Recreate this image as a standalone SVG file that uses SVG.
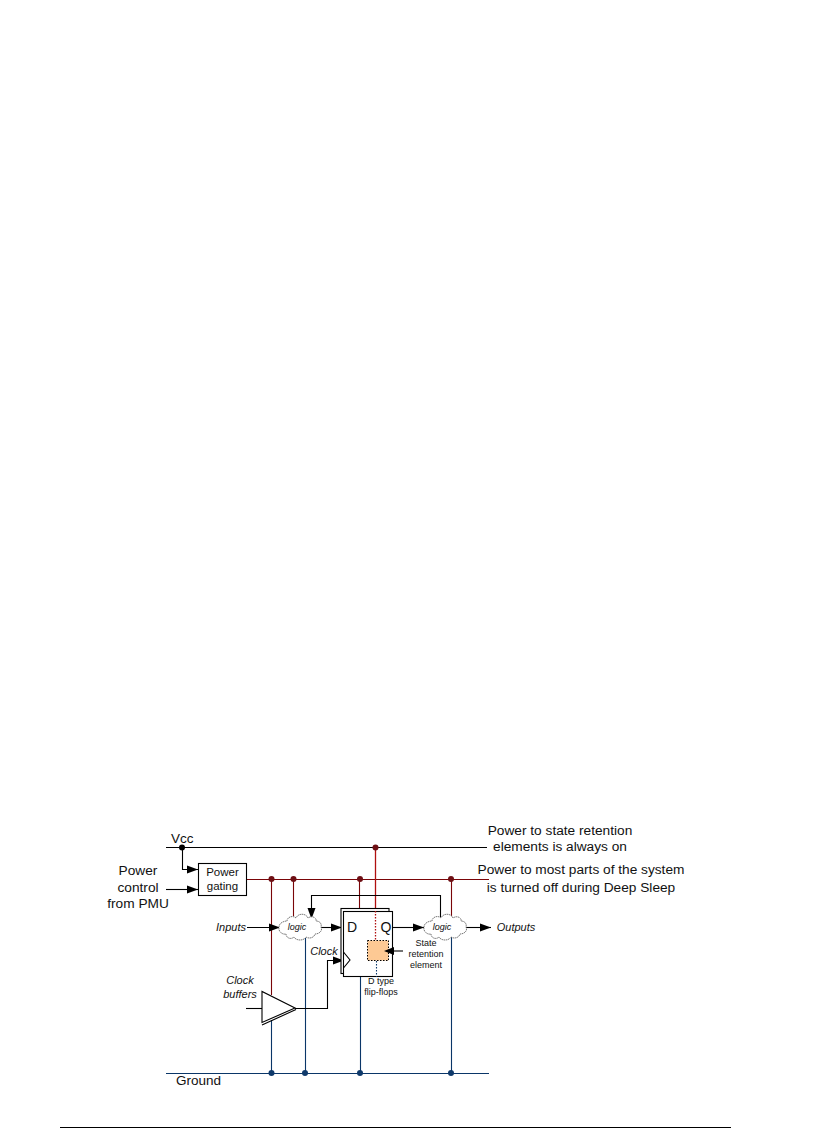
<svg xmlns="http://www.w3.org/2000/svg" width="834" height="1128" viewBox="0 0 834 1128">
<defs>
<marker id="ah" markerUnits="userSpaceOnUse" markerWidth="12" markerHeight="9" refX="11" refY="4.500" orient="auto"><path d="M0,0.500L11,4.500L0,8.500Z" fill="#000"/></marker>
<path id="cloud" d="M-21,0C-21,-4 -16,-6 -13,-6C-13,-10 -7,-12 -4,-9C-2,-14 6,-14 8,-9C12,-12 17,-9 16,-6C20,-6 22,-3 21,0C23,4 19,7 15,7C14,11 9,12 6,10C4,14 -4,14 -6,10C-9,13 -14,11 -14,7C-18,8 -22,4 -21,0Z"/>
</defs>
<style>
text{font-family:"Liberation Sans",Arial,sans-serif;fill:#111}
.l{font-size:13.7px;text-anchor:middle}
.b{font-size:11.5px;text-anchor:middle}
.s{font-size:9px;text-anchor:middle}
.i{font-size:11px;font-style:italic;text-anchor:middle}
.k{fill:none;stroke:#000;stroke-width:1.100}
.r{fill:none;stroke:#7a0508;stroke-width:1.100}
.v{fill:none;stroke:#b00f0f;stroke-width:1.300}
.u{fill:none;stroke:#0a3668;stroke-width:1.100}
.d{stroke-dasharray:1.500 1.500}
.a{marker-end:url(#ah)}
.cl{fill:#fff;stroke:#555;stroke-width:.8;stroke-dasharray:1.500 .6}
.dr{fill:#6e0f14}.db{fill:#0f3a6b}
</style>
<g id="connectors">
<path class="k" d="M166,847.500H487"/>
<path class="r" d="M246,879.500H489"/>
<path class="u" d="M166,1073.500H489"/>
<path class="r" d="M271.500,879.500V995M293.500,879.500V916M359.500,879.500V911M451.500,879.500V918"/>
<path class="v" d="M375.500,847.500V911"/>
<path class="u" d="M271.500,1020V1073M305.500,938V1073M360.500,977V1073M451.500,936V1073"/>
<path class="k a" d="M182.500,847.500V869.500H198"/>
<path class="k a" d="M166,889.500H198"/>
<path class="k a" d="M247,927.500H280"/>
<path class="k a" d="M321,927.500H342"/>
<path class="k a" d="M393,927.500H424"/>
<path class="k a" d="M466,927.500H491"/>
<path class="k a" d="M440.500,917V895.500H311.500V919"/>
<path class="k" d="M246,1008.500H262"/>
<path class="k a" d="M295,1008.500H327.500V960.500H344"/>
</g>
<g id="dots">
<circle class="db" cx="271.500" cy="1073" r="3"/><circle class="db" cx="305" cy="1073" r="3"/><circle class="db" cx="360" cy="1073" r="3"/><circle class="db" cx="451" cy="1073" r="3"/>
<circle class="dr" cx="271.500" cy="879" r="3"/><circle class="dr" cx="293.500" cy="879" r="3"/><circle class="dr" cx="360" cy="879" r="3"/><circle class="dr" cx="451" cy="879" r="3"/><circle class="dr" cx="375.500" cy="847.500" r="3"/>
<circle cx="182" cy="847.500" r="3" fill="#000"/>
</g>
<g id="power-gating">
<rect x="198.500" y="863.500" width="48" height="32" fill="#fff" stroke="#000" stroke-width="1.100"/>
<text class="b" x="222.500" y="876">Power</text><text class="b" x="222.500" y="890">gating</text>
</g>
<g id="logic-1"><use href="#cloud" x="300" y="927" class="cl"/><text class="s" x="297" y="930" font-style="italic">logic</text></g>
<g id="logic-2"><use href="#cloud" x="445" y="927" class="cl"/><text class="s" x="442" y="930" font-style="italic">logic</text></g>
<g id="flip-flops">
<rect x="341" y="908.500" width="48" height="65" fill="#fff" stroke="#000" stroke-width="1.100"/>
<rect x="343.500" y="911.500" width="49" height="65" fill="#fff" stroke="#000" stroke-width="1.100"/>
<path class="k" d="M343.500,952L350,960L343.500,968"/>
<path class="v d" d="M375.500,911V941"/>
<path class="u d" d="M376.500,961V977"/>
<text x="347" y="932" font-size="14">D</text><text x="380.500" y="932" font-size="14">Q</text>
</g>
<g id="state-retention">
<rect x="367.500" y="940.500" width="21" height="20" fill="#fdc994" stroke="#000" stroke-width="1" stroke-dasharray="1.500 1.500"/>
<path class="k" d="M394,951H403"/>
<path d="M384,951L394,947V955Z" fill="#000"/>
</g>
<g id="clock-buffer">
<path d="M262,991.500V1022.500L295,1008Z" fill="#fff" stroke="#000" stroke-width="1.100"/>
<path d="M262,1025L296,1009.500" class="k"/>
</g>
<g id="labels">
<text x="171" y="843" font-size="13.500">Vcc</text>
<text class="l" x="138" y="875">Power</text><text class="l" x="138" y="892">control</text><text class="l" x="138" y="908">from PMU</text>
<text class="i" x="231" y="931">Inputs</text>
<text class="i" x="516" y="931">Outputs</text>
<text class="i" x="324" y="955">Clock</text>
<text class="i" x="240" y="984">Clock</text><text class="i" x="240" y="998">buffers</text>
<text class="s" x="426" y="946">State</text><text class="s" x="426" y="957">retention</text><text class="s" x="426" y="968">element</text>
<text class="s" x="381" y="984">D type</text><text class="s" x="381" y="995">flip-flops</text>
<text x="176" y="1085" font-size="13.500">Ground</text>
<text class="l" x="560" y="835">Power to state retention</text>
<text class="l" x="560" y="851">elements is always on</text>
<text class="l" x="581" y="874">Power to most parts of the system</text>
<text class="l" x="581" y="892">is turned off during Deep Sleep</text>
</g>
<rect x="60" y="1127" width="671" height="1" fill="#000"/>
</svg>
